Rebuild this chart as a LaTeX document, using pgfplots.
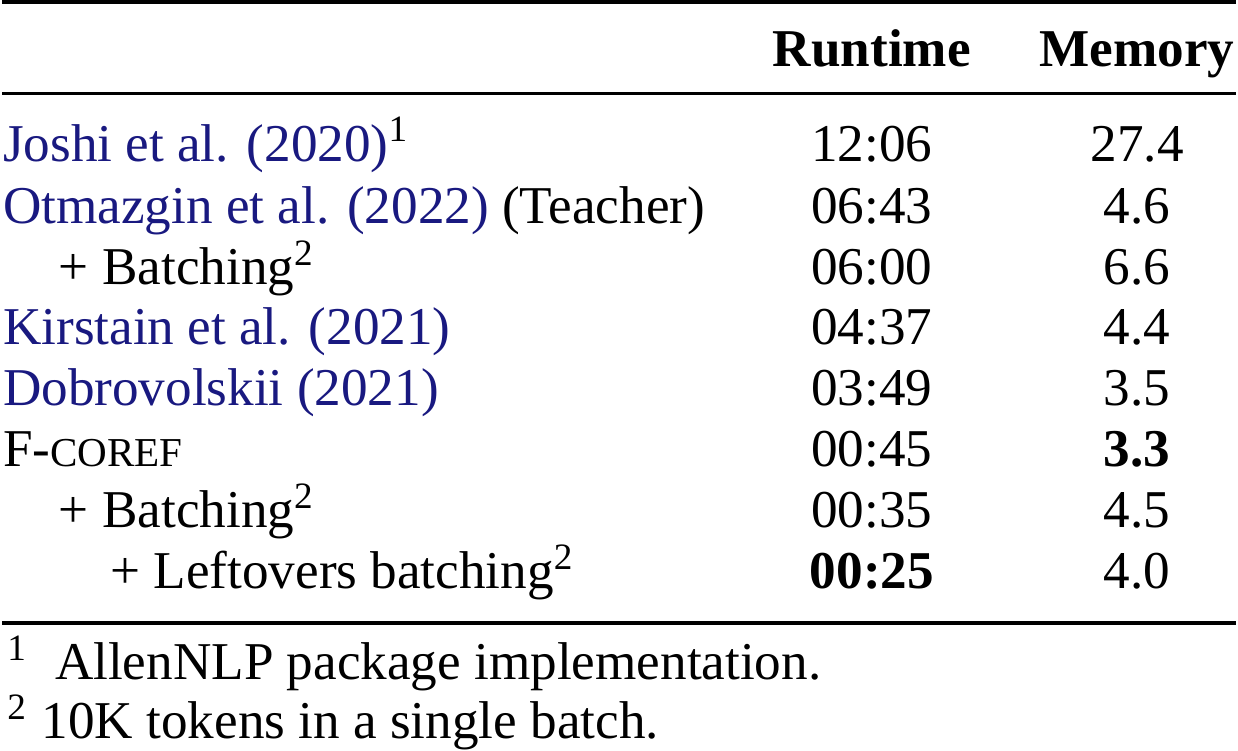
\documentclass[border=0pt]{standalone}
\usepackage{pgfplots}
\pgfplotsset{compat=1.18}
\usepackage{fontspec}
\setmainfont{Liberation Serif}
\definecolor{cite}{rgb}{0.1,0.1,0.5}
\begin{document}
\begin{tikzpicture}
\begin{axis}[width=275pt,height=174.16pt,scale only axis,hide axis,
 xmin=0,xmax=1238,ymin=0,ymax=784,clip=false]
\draw[line width=0.9pt] (axis cs:48,732) -- (axis cs:1197,732);
\draw[line width=0.45pt] (axis cs:48,647) -- (axis cs:1197,647);
\draw[line width=0.9pt] (axis cs:48,154) -- (axis cs:1197,154);
\tikzset{t/.style={inner sep=0pt,font=\fontsize{11}{13}\selectfont}}
\node[t,anchor=base] at (axis cs:858,672) {\textbf{Runtime}};
\node[t,anchor=base] at (axis cs:1105,672) {\textbf{Memory}};
\node[t,anchor=base west] at (axis cs:48,584) {\textcolor{cite}{Joshi et al. (2020)}\textsuperscript{1}};
\node[t,anchor=base west] at (axis cs:48,526) {\textcolor{cite}{Otmazgin et al. (2022)} (Teacher)};
\node[t,anchor=base west] at (axis cs:100,469) {+ Batching\textsuperscript{2}};
\node[t,anchor=base west] at (axis cs:48,413) {\textcolor{cite}{Kirstain et al. (2021)}};
\node[t,anchor=base west] at (axis cs:48,356) {\textcolor{cite}{Dobrovolskii (2021)}};
\node[t,anchor=base west] at (axis cs:48,300) {F-{\fontsize{8.5}{9}\selectfont COREF}};
\node[t,anchor=base west] at (axis cs:100,243) {+ Batching\textsuperscript{2}};
\node[t,anchor=base west] at (axis cs:148,186) {+ Leftovers batching\textsuperscript{2}};
\node[t,anchor=base] at (axis cs:858,584) {12:06};
\node[t,anchor=base] at (axis cs:1105,584) {27.4};
\node[t,anchor=base] at (axis cs:858,526) {06:43};
\node[t,anchor=base] at (axis cs:1105,526) {4.6};
\node[t,anchor=base] at (axis cs:858,469) {06:00};
\node[t,anchor=base] at (axis cs:1105,469) {6.6};
\node[t,anchor=base] at (axis cs:858,413) {04:37};
\node[t,anchor=base] at (axis cs:1105,413) {4.4};
\node[t,anchor=base] at (axis cs:858,356) {03:49};
\node[t,anchor=base] at (axis cs:1105,356) {3.5};
\node[t,anchor=base] at (axis cs:858,300) {00:45};
\node[t,anchor=base] at (axis cs:1105,300) {\textbf{3.3}};
\node[t,anchor=base] at (axis cs:858,243) {00:35};
\node[t,anchor=base] at (axis cs:1105,243) {4.5};
\node[t,anchor=base] at (axis cs:858,186) {\textbf{00:25}};
\node[t,anchor=base] at (axis cs:1105,186) {4.0};
\node[t,anchor=base west] at (axis cs:52,101) {\textsuperscript{1}\ \ AllenNLP package implementation.};
\node[t,anchor=base west] at (axis cs:52,46) {\textsuperscript{2}\ 10K tokens in a single batch.};
\end{axis}
\end{tikzpicture}
\end{document}
